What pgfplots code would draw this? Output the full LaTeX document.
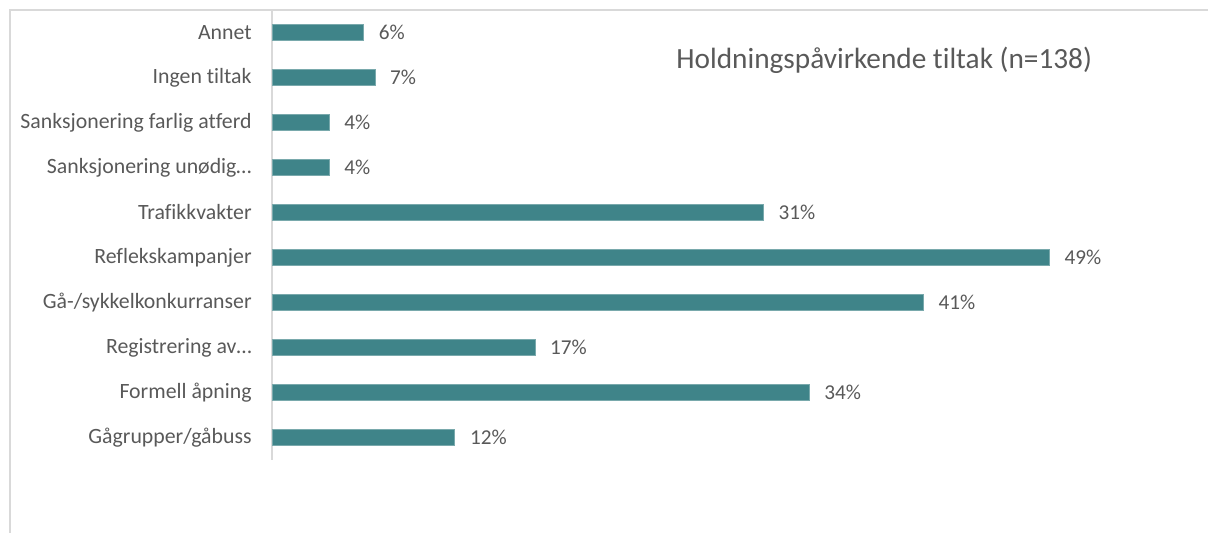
\documentclass[border=0pt]{standalone}
\usepackage{pgfplots}
\pgfplotsset{compat=1.18}
\usepackage{fontspec}
\setmainfont[Ligatures={NoCommon}]{Carlito}
\definecolor{barc}{HTML}{3F8489}
\definecolor{txt}{HTML}{595959}
\definecolor{frame}{HTML}{D9D9D9}
\begin{document}
\begin{tikzpicture}[x=1pt,y=1pt]
\useasboundingbox (0,0) rectangle (604,266.5);
\draw[frame, line width=0.8pt] (5,-5) -- (5,261.5) -- (610,261.5);
\begin{axis}[
  at={(136pt,36.5pt)}, anchor=south west,
  scale only axis, width=468pt, height=225pt,
  xbar, bar width=8pt,
  xmin=0, xmax=59.35,
  ymin=-0.5, ymax=9.5,
  axis x line=none,
  axis y line*=left,
  y axis line style={frame, line width=0.8pt, -},
  ytick={0,...,9},
  yticklabels={Gågrupper/gåbuss, Formell åpning, Registrering av…, Gå-/sykkelkonkurranser, Reflekskampanjer, Trafikkvakter, Sanksjonering unødig…, Sanksjonering farlig atferd, Ingen tiltak, Annet},
  major tick length=0pt,
  yticklabel style={font=\fontsize{10.9}{12}\selectfont, text=txt, inner sep=0pt, xshift=-10pt},
  point meta=x,
  nodes near coords={\pgfmathprintnumber[fixed,precision=0,assume math mode=true]{\pgfplotspointmeta}\%},
  nodes near coords style={font=\fontsize{10.6}{12}\selectfont, text=txt, anchor=west, inner sep=0pt, xshift=7.5pt},
  clip=false,
]
\addplot[fill=barc, draw=barc!70!white, line width=0.3pt] coordinates {
(11.59,0) (34.06,1) (16.67,2) (41.30,3) (49.28,4) (31.16,5) (3.62,6) (3.62,7) (6.52,8) (5.80,9)
};
\end{axis}
\node[anchor=west, inner sep=0pt, text=txt, font=\fontsize{14.65}{16}\selectfont] at (338,236.5) {Holdningspåvirkende tiltak (n=138)};
\end{tikzpicture}
\end{document}
